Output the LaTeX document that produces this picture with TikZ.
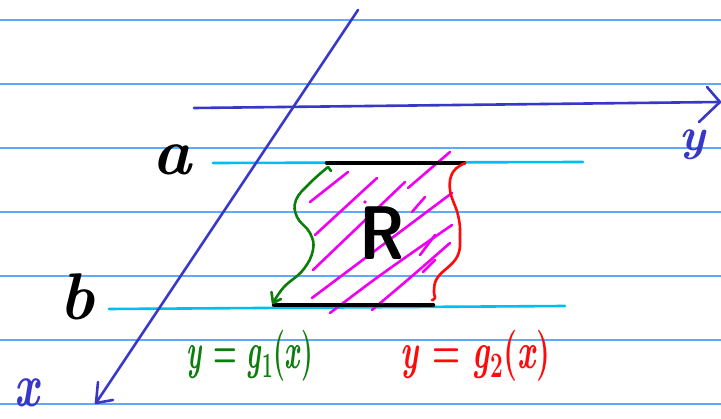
\documentclass[tikz,border=0pt]{standalone}
\usepackage{fontspec}
\usepackage{tikz}
\definecolor{rule}{RGB}{95,170,250}
\definecolor{cyanl}{RGB}{0,190,240}
\definecolor{axis}{RGB}{55,55,200}
\definecolor{grn}{RGB}{10,125,10}
\definecolor{rd}{RGB}{255,10,10}
\definecolor{mag}{RGB}{240,0,240}
\tikzset{
  ruled/.style={rule, line width=1.3pt},
  limit/.style={cyanl, line width=2.6pt, line cap=round},
  edgeb/.style={black, line width=4.5pt, line cap=round},
  axisl/.style={axis, line width=2.6pt, line cap=round, line join=round},
  hatch/.style={mag, line width=2.6pt, line cap=round},
  bound/.style={line width=2.6pt, line cap=round, line join=round},
  lbl/.style={inner sep=0pt, outer sep=0pt}
}
\newcommand{\fsz}[1]{\fontsize{#1}{#1}\selectfont}
\begin{document}
\begin{tikzpicture}[x=1pt,y=-1pt]
\useasboundingbox (0,0) rectangle (721,419);
\fill[white] (0,0) rectangle (721,419);
% ruled paper lines
\foreach \yy in {20,84,148,212,276,340,404}
  \draw[ruled] (0,\yy) -- (721,\yy);
% limit lines
\coordinate (a1) at (213,163);
\coordinate (a2) at (583,162);
\coordinate (b1) at (109,309);
\coordinate (b2) at (565,306);
\draw[limit] (a1) -- (a2);
\draw[limit] (b1) -- (b2);
% hatching
\draw[hatch] (310,202) -- (348,172);
\draw[hatch] (315,235) -- (377,178);
\draw[hatch] (313,270) -- (405,182);
\draw[hatch] (408,188) -- (450,152);
\draw[hatch] (412,212) -- (425,197);
\draw[hatch] (312,298) .. controls (360,262) .. (452,193);
\draw[hatch] (330,313) .. controls (380,275) .. (452,225);
\draw[hatch] (372,310) .. controls (410,278) .. (450,243);
\draw[hatch] (420,255) -- (435,235);
\draw[hatch] (423,272) -- (435,260);
\fill[mag] (365,202) circle (1.8pt);
% boundary segments
\coordinate (t1) at (327,163);
\coordinate (t2) at (464,163);
\coordinate (u1) at (274,305);
\coordinate (u2) at (433,305);
\draw[edgeb] (t1) -- (t2);
\draw[edgeb] (u1) -- (u2);
% green curve g1
\draw[bound, grn] (331,171) -- (328,167)
  plot[smooth, tension=0.7] coordinates {(328,167) (310,183) (296,200) (297,217) (310,233) (313,250) (303,270) (284,287) (273,303)};
\draw[bound, grn] (271.5,292) -- (273,303) -- (281,299);
% red curve g2
\draw[bound, rd] plot[smooth, tension=0.7] coordinates {(465,163) (453,172) (450,190) (458,215) (460,235) (457,257) (438,277) (434,290) (435,298) (432,300)};
% axes
\coordinate (xs) at (358,10);
\coordinate (xt) at (96,403);
\draw[axisl] (xs) -- (xt);
\draw[axisl] (98,382) -- (xt) -- (113,400);
\coordinate (ys) at (194,108);
\coordinate (yt) at (720,102);
\draw[axisl] (ys) -- (yt);
\draw[axisl] (707,87) -- (yt) -- (699,122);
% labels
\node[lbl, axis, font=\fsz{46}\bfseries\itshape] (ylab) at (692,145) {y};
\node[lbl, axis, yscale=1.4, font=\fsz{44}\bfseries\itshape] (xlab) at (27,393) {x};
\node[lbl, font=\fsz{66}\bfseries\itshape] (alab) at (172,160) {a};
\node[lbl, font=\fsz{66}\bfseries\itshape] (blab) at (77,297) {b};
\node[lbl, xscale=0.85, font=\fsz{76}\sffamily\bfseries] (Rlab) at (382,233) {R};
\node[lbl, grn, xscale=0.9, yscale=1.7, font=\fsz{30}\bfseries] (g1lab) at (250,356) {\textit{y} = \textit{g}\textsubscript{1}(\textit{x})};
\node[lbl, rd, xscale=1.07, yscale=1.7, font=\fsz{30}\bfseries] (g2lab) at (476,356) {\textit{y} = \textit{g}\textsubscript{2}(\textit{x})};
\end{tikzpicture}
\end{document}
